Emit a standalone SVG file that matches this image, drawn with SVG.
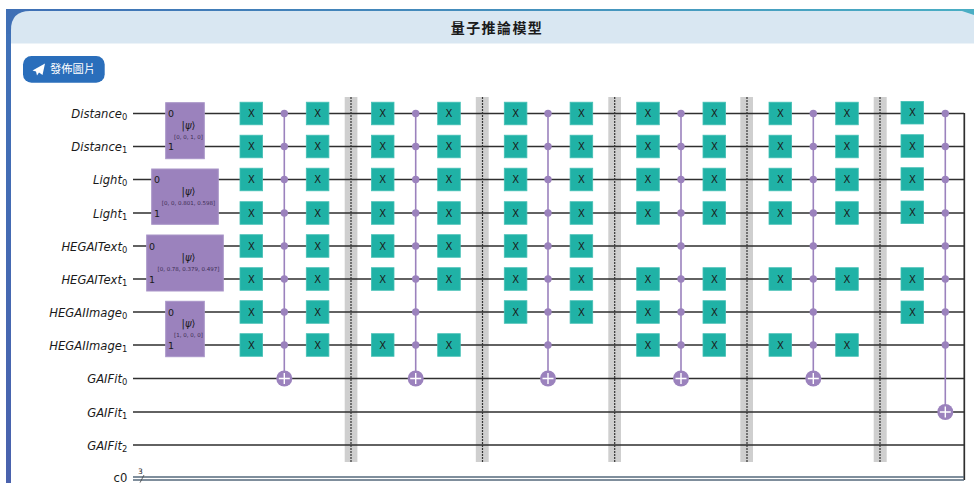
<svg xmlns="http://www.w3.org/2000/svg" width="974" height="483" viewBox="0 0 974 483">
<style>
text{font-family:"DejaVu Sans","Noto Sans CJK TC",sans-serif;fill:#1a1a1a}
.w{stroke:#2f2f2f;stroke-width:1.700;fill:none}
.lab{font-size:11.6px;font-style:italic;text-anchor:end}
.lab tspan{font-style:normal;font-size:8.4px}
.x rect{fill:#20b2a6;stroke:#45c0b6;stroke-width:.8}
.x text{font-size:10px;text-anchor:middle}
.p{fill:#9b82bd;stroke:#a995c8;stroke-width:1}
.c{stroke:#9b82bd;stroke-width:1.6;fill:none}
.b{fill:#cfcfcf}
.bd{stroke:#333;stroke-width:1.2;stroke-dasharray:2 1;fill:none}
.pk{font-size:10px;text-anchor:middle}
.pk tspan{font-style:italic}
.pp{font-size:5.5px;text-anchor:middle;fill:#3b2d52}
.q{font-size:9.5px}
</style>
<defs>
<linearGradient id="topband"><stop offset="0" stop-color="#3f6fb5"/><stop offset="1" stop-color="#4aaec4"/></linearGradient>
<linearGradient id="sideband" x1="0" y1="0" x2="0" y2="1"><stop offset="0" stop-color="#3f72b8"/><stop offset="1" stop-color="#4a62ad"/></linearGradient>
<g id="xg" class="x"><rect x="-11.300" y="-11.300" width="22.600" height="22.600"/><text y="3.700">X</text></g>
<circle id="dot" r="3.700" fill="#9b82bd"/>
<g id="pl"><circle r="8" fill="#9b82bd"/><path d="M-5.500 0H5.500M0-5.500V5.500" stroke="#fff" stroke-width="1.400"/></g>
</defs>
<rect width="974" height="483" fill="#fff"/>
<g id="frame">
<rect x="6" y="9" width="5" height="474" fill="url(#sideband)"/>
<rect x="6" y="9" width="968" height="25" fill="url(#topband)"/>
<path d="M11 43.500V30Q11 11 30 11H962L974 15V43.500Z" fill="#d9e7f2"/>
<text x="497" y="32.500" font-size="14" font-weight="700" letter-spacing="1.400" text-anchor="middle">量子推論模型</text>
</g>
<g id="publish-button">
<rect x="23" y="56" width="81.700" height="26.700" rx="8.500" fill="#2a6ebb"/>
<path d="M32.500 70.500L45 63.500L42.500 75L39 72.500L37 75.500L36 71.500Z" fill="#fff"/>
<text x="50" y="73" font-size="11.300" style="fill:#fff">發佈圖片</text>
</g>
<g id="barriers">
<rect class="b" x="344.700" y="97" width="12.700" height="365"/>
<rect class="b" x="475.800" y="97" width="12.900" height="365"/>
<rect class="b" x="608.300" y="97" width="12.700" height="365"/>
<rect class="b" x="740.300" y="97" width="12.700" height="365"/>
<rect class="b" x="873.700" y="97" width="13" height="365"/>
</g>
<g id="connectors">
<path class="w" d="M133 113.500H964M133 146.500H964M133 179.500H964M133 213H964M133 246H964M133 279H964M133 312H964M133 345H964M133 378.500H964M133 412H964M133 445H964"/>
<path class="w" d="M964.300 113V480"/>
<path d="M133 477H964M133 480H964" stroke="#55697c" stroke-width="1.400" fill="none"/>
<path d="M140 482.700L144 475" stroke="#444" stroke-width=".8"/>
<path class="bd" d="M351 97V462M482.500 97V462M614.700 97V462M747 97V462M880 97V462"/>
<path class="c" d="M284.300 113.500V378.500M415.700 113.500V378.500M548 113.500V378.500M681 113.500V378.500M813.300 113.500V378.500M945.300 113.500V412"/>
</g>
<g id="labels">
<text class="lab" x="127.300" y="118">Distance<tspan dy="2">0</tspan></text>
<text class="lab" x="127.300" y="151">Distance<tspan dy="2">1</tspan></text>
<text class="lab" x="127.300" y="184">Light<tspan dy="2">0</tspan></text>
<text class="lab" x="127.300" y="217.500">Light<tspan dy="2">1</tspan></text>
<text class="lab" x="127.300" y="250.500">HEGAIText<tspan dy="2">0</tspan></text>
<text class="lab" x="127.300" y="283.500">HEGAIText<tspan dy="2">1</tspan></text>
<text class="lab" x="127.300" y="316.500">HEGAIImage<tspan dy="2">0</tspan></text>
<text class="lab" x="127.300" y="349.500">HEGAIImage<tspan dy="2">1</tspan></text>
<text class="lab" x="127.300" y="383">GAIFit<tspan dy="2">0</tspan></text>
<text class="lab" x="127.300" y="416.500">GAIFit<tspan dy="2">1</tspan></text>
<text class="lab" x="127.300" y="449.500">GAIFit<tspan dy="2">2</tspan></text>
<text x="127.300" y="481.500" font-size="11.600" text-anchor="end">c0</text>
<text x="138" y="474" font-size="7.500">3</text>
</g>
<g id="init-0"><rect class="p" x="165.700" y="102.700" width="38.600" height="56"/><text class="q" x="168" y="117">0</text><text class="q" x="168" y="150">1</text><text class="pk" x="188.500" y="129">|<tspan>ψ</tspan>⟩</text><text class="pp" x="188.500" y="139">[0, 0, 1, 0]</text></g>
<g id="init-1"><rect class="p" x="151.700" y="169" width="66.600" height="55.300"/><text class="q" x="154" y="183">0</text><text class="q" x="154" y="216.500">1</text><text class="pk" x="188.500" y="195">|<tspan>ψ</tspan>⟩</text><text class="pp" x="188.500" y="205">[0, 0, 0.801, 0.598]</text></g>
<g id="init-2"><rect class="p" x="146.700" y="235" width="76.600" height="56"/><text class="q" x="149" y="249.500">0</text><text class="q" x="149" y="282.500">1</text><text class="pk" x="188.500" y="261">|<tspan>ψ</tspan>⟩</text><text class="pp" x="188.500" y="271">[0, 0.78, 0.379, 0.497]</text></g>
<g id="init-3"><rect class="p" x="165.700" y="301.300" width="38.600" height="55.400"/><text class="q" x="168" y="315.500">0</text><text class="q" x="168" y="349">1</text><text class="pk" x="188.500" y="327">|<tspan>ψ</tspan>⟩</text><text class="pp" x="188.500" y="337">[1, 0, 0, 0]</text></g>
<g id="gates-x">
<use href="#xg" x="251.300" y="113.500"/><use href="#xg" x="251.300" y="146.500"/><use href="#xg" x="251.300" y="179.500"/><use href="#xg" x="251.300" y="213"/><use href="#xg" x="251.300" y="246"/><use href="#xg" x="251.300" y="279"/><use href="#xg" x="251.300" y="312"/><use href="#xg" x="251.300" y="345"/>
<use href="#xg" x="317.600" y="113.500"/><use href="#xg" x="317.600" y="146.500"/><use href="#xg" x="317.600" y="179.500"/><use href="#xg" x="317.600" y="213"/><use href="#xg" x="317.600" y="246"/><use href="#xg" x="317.600" y="279"/><use href="#xg" x="317.600" y="312"/><use href="#xg" x="317.600" y="345"/>
<use href="#xg" x="382.700" y="113.500"/><use href="#xg" x="382.700" y="146.500"/><use href="#xg" x="382.700" y="179.500"/><use href="#xg" x="382.700" y="213"/><use href="#xg" x="382.700" y="246"/><use href="#xg" x="382.700" y="279"/><use href="#xg" x="382.700" y="345"/>
<use href="#xg" x="449" y="113.500"/><use href="#xg" x="449" y="146.500"/><use href="#xg" x="449" y="179.500"/><use href="#xg" x="449" y="213"/><use href="#xg" x="449" y="246"/><use href="#xg" x="449" y="279"/><use href="#xg" x="449" y="345"/>
<use href="#xg" x="515.600" y="113.500"/><use href="#xg" x="515.600" y="146.500"/><use href="#xg" x="515.600" y="179.500"/><use href="#xg" x="515.600" y="213"/><use href="#xg" x="515.600" y="246"/><use href="#xg" x="515.600" y="279"/><use href="#xg" x="515.600" y="312"/>
<use href="#xg" x="581.400" y="113.500"/><use href="#xg" x="581.400" y="146.500"/><use href="#xg" x="581.400" y="179.500"/><use href="#xg" x="581.400" y="213"/><use href="#xg" x="581.400" y="246"/><use href="#xg" x="581.400" y="279"/><use href="#xg" x="581.400" y="312"/>
<use href="#xg" x="648" y="113.500"/><use href="#xg" x="648" y="146.500"/><use href="#xg" x="648" y="179.500"/><use href="#xg" x="648" y="213"/><use href="#xg" x="648" y="279"/><use href="#xg" x="648" y="312"/><use href="#xg" x="648" y="345"/>
<use href="#xg" x="714.300" y="113.500"/><use href="#xg" x="714.300" y="146.500"/><use href="#xg" x="714.300" y="179.500"/><use href="#xg" x="714.300" y="213"/><use href="#xg" x="714.300" y="279"/><use href="#xg" x="714.300" y="312"/><use href="#xg" x="714.300" y="345"/>
<use href="#xg" x="780.300" y="113.500"/><use href="#xg" x="780.300" y="146.500"/><use href="#xg" x="780.300" y="179.500"/><use href="#xg" x="780.300" y="213"/><use href="#xg" x="780.300" y="279"/><use href="#xg" x="780.300" y="345"/>
<use href="#xg" x="847" y="113.500"/><use href="#xg" x="847" y="146.500"/><use href="#xg" x="847" y="179.500"/><use href="#xg" x="847" y="213"/><use href="#xg" x="847" y="279"/><use href="#xg" x="847" y="345"/>
<use href="#xg" x="912.300" y="112.700"/><use href="#xg" x="912.300" y="146"/><use href="#xg" x="912.300" y="179"/><use href="#xg" x="912.300" y="212.300"/><use href="#xg" x="912.300" y="279"/><use href="#xg" x="912.300" y="312.300"/>
</g>
<g id="gates-mcx">
<use href="#dot" x="284.300" y="113.500"/><use href="#dot" x="284.300" y="146.500"/><use href="#dot" x="284.300" y="179.500"/><use href="#dot" x="284.300" y="213"/><use href="#dot" x="284.300" y="246"/><use href="#dot" x="284.300" y="279"/><use href="#dot" x="284.300" y="312"/><use href="#dot" x="284.300" y="345"/><use href="#pl" x="284.300" y="378.500"/>
<use href="#dot" x="415.700" y="113.500"/><use href="#dot" x="415.700" y="146.500"/><use href="#dot" x="415.700" y="179.500"/><use href="#dot" x="415.700" y="213"/><use href="#dot" x="415.700" y="246"/><use href="#dot" x="415.700" y="279"/><use href="#dot" x="415.700" y="312"/><use href="#dot" x="415.700" y="345"/><use href="#pl" x="415.700" y="378.500"/>
<use href="#dot" x="548" y="113.500"/><use href="#dot" x="548" y="146.500"/><use href="#dot" x="548" y="179.500"/><use href="#dot" x="548" y="213"/><use href="#dot" x="548" y="246"/><use href="#dot" x="548" y="279"/><use href="#dot" x="548" y="312"/><use href="#dot" x="548" y="345"/><use href="#pl" x="548" y="378.500"/>
<use href="#dot" x="681" y="113.500"/><use href="#dot" x="681" y="146.500"/><use href="#dot" x="681" y="179.500"/><use href="#dot" x="681" y="213"/><use href="#dot" x="681" y="246"/><use href="#dot" x="681" y="279"/><use href="#dot" x="681" y="312"/><use href="#dot" x="681" y="345"/><use href="#pl" x="681" y="378.500"/>
<use href="#dot" x="813.300" y="113.500"/><use href="#dot" x="813.300" y="146.500"/><use href="#dot" x="813.300" y="179.500"/><use href="#dot" x="813.300" y="213"/><use href="#dot" x="813.300" y="246"/><use href="#dot" x="813.300" y="279"/><use href="#dot" x="813.300" y="312"/><use href="#dot" x="813.300" y="345"/><use href="#pl" x="813.300" y="378.500"/>
<use href="#dot" x="945.300" y="113.500"/><use href="#dot" x="945.300" y="146.500"/><use href="#dot" x="945.300" y="179.500"/><use href="#dot" x="945.300" y="213"/><use href="#dot" x="945.300" y="246"/><use href="#dot" x="945.300" y="279"/><use href="#dot" x="945.300" y="312"/><use href="#dot" x="945.300" y="345"/><use href="#pl" x="945.300" y="412"/>
</g>
</svg>
